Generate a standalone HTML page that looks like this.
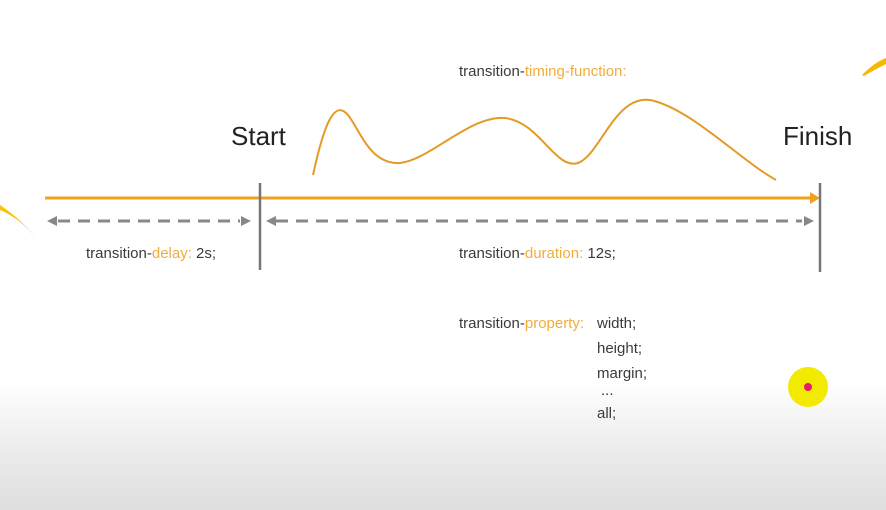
<!DOCTYPE html>
<html><head><meta charset="utf-8"><style>
html,body{margin:0;padding:0;width:886px;height:510px;overflow:hidden}
body{background:linear-gradient(#fff 0,#fff 380px,#ececec 450px,#dedede 510px);font-family:"Liberation Sans",sans-serif}
svg{position:absolute;left:0;top:0}
text{font-family:"Liberation Sans",sans-serif}
.s{font-size:15px;fill:#3a3a3a}
.o{fill:#f0ad3c}
</style></head><body>
<svg width="886" height="510" viewBox="0 0 886 510">
<path d="M0 205 Q22 220 38 240 Q20 218 0 210Z" fill="#f5c400"/>
<path d="M862 75 Q875 62 886 58 L886 64 Q874 70 864 76Z" fill="#f5b800"/>
<path d="M313 175 C325 120 335 100 348 115 C360 130 370 165 400 163 C430 160 470 115 505 118 C540 122 555 170 578 163 C600 155 615 95 650 100 C690 108 740 160 776 180" fill="none" stroke="#e39b25" stroke-width="2"/>
<line x1="45" y1="198" x2="812" y2="198" stroke="#f0a020" stroke-width="3"/>
<polygon points="810,192 820,198 810,204" fill="#f0a020"/>
<line x1="260" y1="183" x2="260" y2="270" stroke="#777" stroke-width="2.5"/>
<line x1="820" y1="183" x2="820" y2="272" stroke="#777" stroke-width="2.5"/>
<g stroke="#888" stroke-width="3" stroke-dasharray="12,8">
<line x1="58" y1="221" x2="240" y2="221"/>
<line x1="276" y1="221" x2="802" y2="221"/>
</g>
<g fill="#888">
<polygon points="47,221 57,216 57,226"/><polygon points="251,221 241,216 241,226"/>
<polygon points="266,221 276,216 276,226"/><polygon points="814,221 804,216 804,226"/>
</g>
<text x="231" y="145" font-size="26" fill="#222">Start</text>
<text x="783" y="145" font-size="26" fill="#222">Finish</text>
<text x="459" y="76" class="s">transition-<tspan class="o">timing-function:</tspan></text>
<text x="86" y="258" class="s">transition-<tspan class="o">delay:</tspan> 2s;</text>
<text x="459" y="258" class="s">transition-<tspan class="o">duration:</tspan> 12s;</text>
<text x="459" y="328" class="s">transition-<tspan class="o">property:</tspan></text>
<text x="597" y="328" class="s">width;</text>
<text x="597" y="353" class="s">height;</text>
<text x="597" y="378" class="s">margin;</text>
<text x="601" y="395" class="s" font-size="10">...</text>
<text x="597" y="418" class="s">all;</text>
<circle cx="808" cy="387" r="20" fill="#f2ea00"/>
<circle cx="808" cy="387" r="4" fill="#e8186a"/>
</svg>
</body></html>
